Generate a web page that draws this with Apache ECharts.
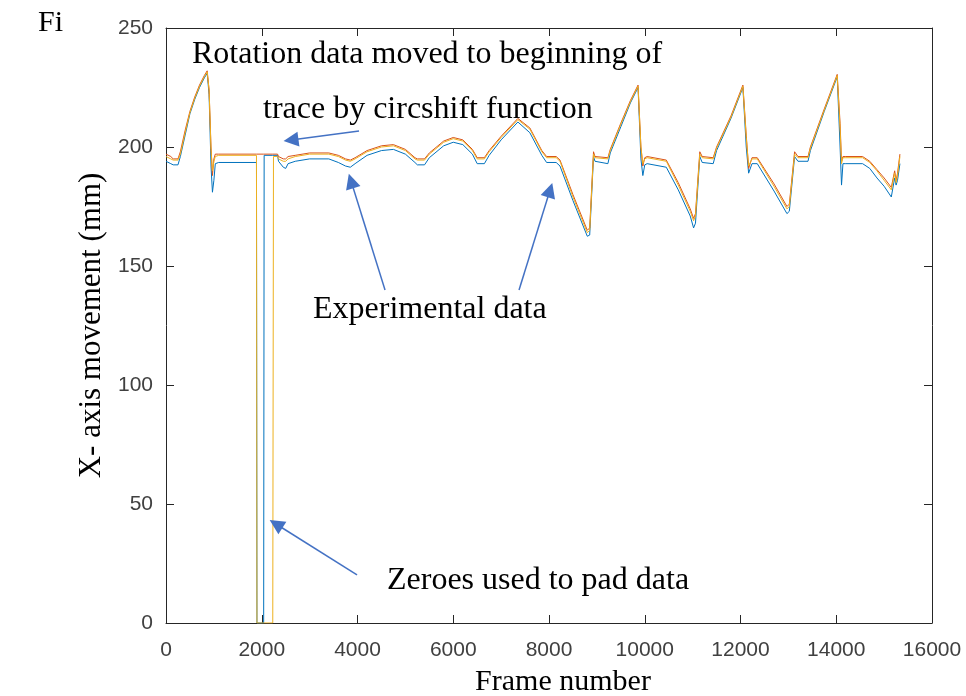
<!DOCTYPE html>
<html>
<head>
  <meta charset="utf-8">
  <script src="https://cdn.jsdelivr.net/npm/echarts@6/dist/echarts.min.js"></script>
  <style>
    body {
      margin: 0;
      padding: 0;
      background-color: white;
    }
    #main {
      width: 966px;
      height: 696px;
    }
  </style>
  <title>X-axis movement</title>
</head>
<body>
<div id="main"></div>
<script>
  // frame numbers shared by all three traces
  var frames = [0, 100, 150, 250, 300, 400, 500, 600, 700, 800, 860, 900, 940, 970, 1000, 1030, 1100, 1890, 1900, 2040, 2050, 2230, 2245, 2330, 2350, 2450, 2500, 2550, 2700, 3000, 3400, 3600, 3750, 3850, 3950, 4200, 4500, 4750, 5000, 5200, 5250, 5400, 5500, 5800, 6000, 6200, 6400, 6500, 6650, 6750, 7000, 7350, 7600, 7850, 7950, 8150, 8230, 8500, 8800, 8850, 8930, 8960, 9230, 9280, 9500, 9700, 9860, 9920, 9960, 10000, 10050, 10450, 10700, 10950, 11020, 11060, 11150, 11200, 11430, 11500, 11800, 12050, 12120, 12170, 12240, 12350, 12700, 12970, 13020, 13130, 13200, 13410, 13460, 13750, 14020, 14080, 14110, 14140, 14200, 14550, 14700, 14850, 15000, 15150, 15180, 15220, 15250, 15280, 15330];

  var blueTrace = [194, 193, 192.5, 192.5, 196, 205, 214, 220, 225, 229, 231, 222, 192, 181, 186, 193, 193.5, 193.5, 0, 0, 196.5, 196.5, 196.5, 196.5, 194, 191.5, 191, 193, 194, 195, 195, 193.5, 192, 191.5, 193, 196.5, 198.5, 199, 197, 193.5, 192.5, 192.5, 195.5, 200.5, 202, 201, 197, 193, 193, 196.5, 203, 210.5, 206, 196.5, 193.5, 193.5, 192, 177.5, 162.5, 163, 196, 194, 193, 197.5, 208.5, 218.5, 225, 195, 188, 192.5, 193, 191.5, 182, 171, 166, 168, 196, 193.5, 193, 198.5, 212, 225, 200, 189, 193, 193, 181.5, 172, 173, 196, 194, 194, 198.5, 215, 229.5, 200, 184, 193, 193, 193, 191, 187, 183.5, 179, 178.5, 187, 184, 186, 193];

  var orangeTrace = [197, 196, 195, 195, 198, 207, 215, 221, 226, 230, 232, 224, 200, 188, 195, 197, 197, 197, 197, 197, 197, 197, 197, 197, 196, 195, 195, 196, 196.5, 197.5, 197.5, 196.5, 195, 194.5, 195.5, 198.5, 200.5, 201, 199, 195.5, 195, 195, 197.5, 202.5, 204, 203, 199, 195.5, 195.5, 198.5, 204.5, 212, 208, 198.5, 196, 196, 194.5, 180, 165, 166, 198, 196, 195.5, 199, 210, 219.5, 226, 200, 192, 195.5, 196, 194.5, 185, 174, 170, 172, 198, 196, 195.5, 200, 213, 226, 205, 191, 195.5, 195.5, 184.5, 175, 176, 198, 196, 196, 200, 216, 230.5, 210, 194, 196, 196, 196, 194, 190.5, 187, 183, 182.5, 190, 186, 189, 197];

  var yellowTrace = [196, 195, 194.5, 194.5, 197, 206, 214.5, 220.5, 225.5, 229.5, 231.5, 224, 199, 190, 194, 196, 196.5, 196.5, 0, 0, 0, 0, 196, 196, 195, 194, 194, 195, 196, 197, 197, 196, 194.5, 194, 195, 198, 200, 200.5, 198.5, 195, 194.5, 194.5, 197, 202, 203.5, 202.5, 198.5, 195, 195, 198, 204, 211.5, 207.5, 198, 195.5, 195.5, 194, 179, 164, 165, 197, 195.5, 195, 198.5, 209.5, 219, 225.5, 200, 193, 195, 195.5, 194, 184, 173, 169, 171, 197, 195.5, 195, 199.5, 212.5, 225.5, 204, 192, 195, 195, 183.5, 174, 175, 197, 195.5, 195.5, 199.5, 215.5, 230, 208, 193, 195.5, 195.5, 195.5, 193.5, 190, 186, 182, 182, 189, 185, 188, 196];

  var xTicks = [0, 2000, 4000, 6000, 8000, 10000, 12000, 14000, 16000];
  var yTicks = [0, 50, 100, 150, 200, 250];

  function pairs(ys) {
    return frames.map(function (f, i) { return [f, ys[i]]; });
  }

  var axisColor = '#262626';
  var serif = '"Liberation Serif", "Times New Roman", serif';

  function axisBase(extra) {
    var base = {
      type: 'value',
      axisLine: { show: true, onZero: false, lineStyle: { color: axisColor, width: 1 } },
      axisTick: { show: true, inside: true, length: 8, lineStyle: { color: axisColor } },
      splitLine: { show: false },
      axisLabel: {
        color: '#404040',
        fontFamily: '"Liberation Sans", Arial, sans-serif',
        fontSize: 21,
        formatter: function (v) { return String(v); }
      }
    };
    for (var k in extra) base[k] = extra[k];
    return base;
  }

  var chart = echarts.init(document.getElementById('main'), null, { renderer: 'canvas' });

  var arrowLine = {
    silent: true,
    animation: false,
    symbol: ['none', 'triangle'],
    symbolSize: 15,
    label: { show: false },
    lineStyle: { color: '#4472C4', width: 1.5, type: 'solid' },
    emphasis: { disabled: true },
    data: [
      [{ coord: [4032, 206.7] }, { coord: [2611, 202.9] }],
      [{ coord: [4575, 139.9] }, { coord: [3865, 185.7] }],
      [{ coord: [7374, 139.9] }, { coord: [8022, 181.9] }],
      [{ coord: [3990, 20.2] }, { coord: [2298, 41.6] }]
    ]
  };

  chart.setOption({
    animation: false,
    backgroundColor: '#fff',
    grid: { left: 166, right: 34, top: 28, bottom: 73, containLabel: false, outerBoundsMode: 'none' },
    xAxis: [
      axisBase({
        min: xTicks[0], max: xTicks[xTicks.length - 1], interval: 2000,
        name: 'Frame number',
        nameLocation: 'middle',
        nameGap: 44,
        nameTextStyle: { fontFamily: serif, fontSize: 30, color: '#000', padding: [0, 0, 0, 28] },
        axisLabel: {
          color: '#404040',
          fontFamily: '"Liberation Sans", Arial, sans-serif',
          fontSize: 21,
          margin: 17,
          formatter: function (v) { return String(v); }
        }
      }),
      axisBase({
        position: 'top',
        min: xTicks[0], max: xTicks[xTicks.length - 1], interval: 2000,
        axisLabel: { show: false }
      })
    ],
    yAxis: [
      axisBase({
        min: yTicks[0], max: yTicks[yTicks.length - 1], interval: 50,
        name: 'X- axis movement (mm)',
        nameLocation: 'middle',
        nameGap: 54,
        nameTextStyle: { fontFamily: serif, fontSize: 31, color: '#000' },
        axisLabel: {
          color: '#404040',
          fontFamily: '"Liberation Sans", Arial, sans-serif',
          fontSize: 21,
          margin: 13,
          formatter: function (v) { return String(v); }
        }
      }),
      axisBase({
        position: 'right',
        min: yTicks[0], max: yTicks[yTicks.length - 1], interval: 50,
        axisLabel: { show: false }
      })
    ],
    series: [
      {
        name: 'blue',
        type: 'line',
        data: pairs(blueTrace),
        showSymbol: false,
        lineStyle: { color: '#0072BD', width: 1 },
        markLine: arrowLine
      },
      {
        name: 'orange',
        type: 'line',
        data: pairs(orangeTrace),
        showSymbol: false,
        lineStyle: { color: '#D95319', width: 1 }
      },
      {
        name: 'yellow',
        type: 'line',
        data: pairs(yellowTrace),
        showSymbol: false,
        lineStyle: { color: '#EDB120', width: 1 }
      }
    ],
    graphic: [
      { type: 'text', left: 38, top: 8, style: { text: 'Fi', font: '30px ' + serif, fill: '#000' } },
      { type: 'text', left: 192, top: 39, style: { text: 'Rotation data moved to beginning of', font: '32px ' + serif, fill: '#000' } },
      { type: 'text', left: 263, top: 94, style: { text: 'trace by circshift function', font: '32px ' + serif, fill: '#000' } },
      { type: 'text', left: 313, top: 294, style: { text: 'Experimental data', font: '32px ' + serif, fill: '#000' } },
      { type: 'text', left: 387, top: 565, style: { text: 'Zeroes used to pad data', font: '32px ' + serif, fill: '#000' } }
    ]
  });
</script>
</body>
</html>
